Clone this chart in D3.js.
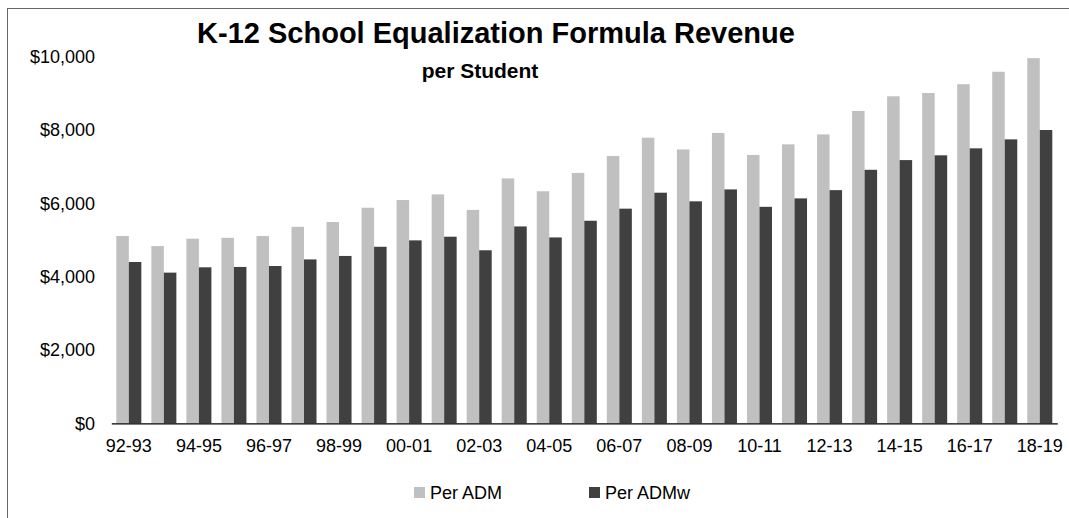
<!DOCTYPE html>
<html>
<head>
<meta charset="utf-8">
<script src="https://cdn.jsdelivr.net/npm/d3@7"></script>
<style>
  body { margin: 0; background: #fff; }
  svg text { font-family: "Liberation Sans", Arial, sans-serif; fill: #000; }
</style>
</head>
<body>
<div id="root"></div>
<script>
// school years
var years = ["92-93", "93-94", "94-95", "95-96", "96-97", "97-98", "98-99", "99-00", "00-01",
  "01-02", "02-03", "03-04", "04-05", "05-06", "06-07", "07-08", "08-09", "09-10", "10-11",
  "11-12", "12-13", "13-14", "14-15", "15-16", "16-17", "17-18", "18-19"];
// revenue per ADM
var perAdm = [5110, 4835, 5035, 5060, 5110, 5360, 5490, 5880, 6090, 6245, 5820, 6680, 6330,
  6830, 7290, 7790, 7470, 7920, 7320, 7610, 7880, 8520, 8920, 9010, 9250, 9590, 9960];
// revenue per weighted ADM
var perAdmw = [4400, 4110, 4255, 4265, 4290, 4470, 4565, 4815, 4990, 5090, 4720, 5370, 5070,
  5525, 5855, 6290, 6055, 6380, 5905, 6135, 6360, 6915, 7180, 7310, 7500, 7745, 8000];
var yTicks = [0, 2000, 4000, 6000, 8000, 10000];
var seriesNames = ["Per ADM", "Per ADMw"];
var seriesColors = ["#c0c0c0", "#404040"];

var w = 1069, h = 518;
var svg = d3.select("#root").append("svg").attr("width", w).attr("height", h);

// chart border (right and bottom edges fall outside the picture)
svg.append("rect").attr("x", 7.5).attr("y", 8.5).attr("width", w).attr("height", h)
  .attr("fill", "none").attr("stroke", "#666").attr("stroke-width", 1);

var xScale = d3.scaleBand().domain(years).range([111.3, 1057.3])
  .paddingInner(0.286).paddingOuter(0.143);
var xSub = d3.scaleBand().domain([0, 1]).range([0, xScale.bandwidth()]);
var yScale = d3.scaleLinear().domain([0, 10000]).range([423.3, 56.7]);

var rows = years.map(function(y, i) {
  return { year: y, vals: [perAdm[i], perAdmw[i]] };
});

var groups = svg.selectAll("g.grp").data(rows).enter().append("g")
  .attr("class", "grp")
  .attr("transform", function(d) { return "translate(" + xScale(d.year) + ",0)"; });
groups.selectAll("rect").data(function(d) { return d.vals; }).enter().append("rect")
  .attr("x", function(d, i) { return xSub(i); })
  .attr("y", function(d) { return yScale(d); })
  .attr("width", xSub.bandwidth())
  .attr("height", function(d) { return yScale(0) - yScale(d); })
  .attr("fill", function(d, i) { return seriesColors[i]; });

// y axis labels only
var yAxis = d3.axisLeft(yScale).tickValues(yTicks).tickSize(0).tickPadding(0)
  .tickFormat(d3.format("$,"));
var gy = svg.append("g").attr("transform", "translate(95,0)").call(yAxis);
gy.select(".domain").remove();
gy.selectAll("text").style("font-size", "18px").attr("font-family", null);

// x axis
var xAxis = d3.axisBottom(xScale).tickSize(0).tickSizeOuter(0).tickPadding(16)
  .tickValues(years.filter(function(d, i) { return i % 2 === 0; }));
var gx = svg.append("g").attr("transform", "translate(0," + yScale(0) + ")").call(xAxis);
gx.select(".domain").attr("stroke", "#000").attr("stroke-width", 1.3);
gx.selectAll("text").style("font-size", "18px").attr("font-family", null);

// titles
svg.append("text").attr("x", 496).attr("y", 43).attr("text-anchor", "middle")
  .style("font-size", "29px").style("font-weight", "bold")
  .text("K-12 School Equalization Formula Revenue");
svg.append("text").attr("x", 480).attr("y", 78).attr("text-anchor", "middle")
  .style("font-size", "21px").style("font-weight", "bold")
  .text("per Student");

// legend
var legendX = [414, 589];
var legend = svg.selectAll("g.leg").data(seriesNames).enter().append("g")
  .attr("class", "leg")
  .attr("transform", function(d, i) { return "translate(" + legendX[i] + ",487)"; });
legend.append("rect").attr("width", 11).attr("height", 11)
  .attr("fill", function(d, i) { return seriesColors[i]; });
legend.append("text").attr("x", 16).attr("y", 5.5).attr("dy", "0.35em")
  .style("font-size", "18px").text(function(d) { return d; });
</script>
</body>
</html>
